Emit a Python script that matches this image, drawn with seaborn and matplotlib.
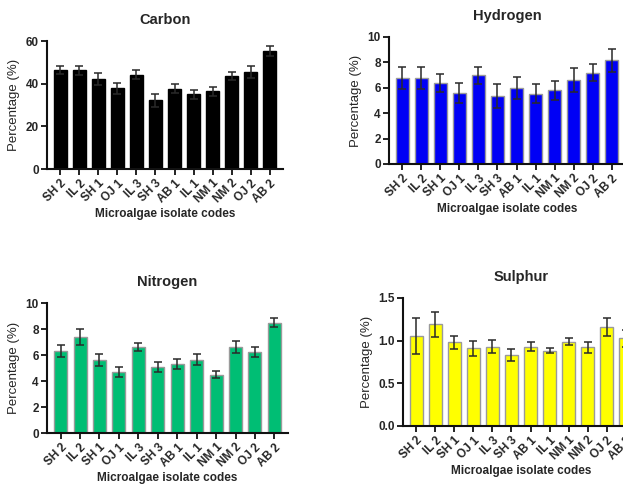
"""Elemental composition (CHNS) of microalgae isolates, four bar panels."""

import matplotlib
matplotlib.use("Agg")
import matplotlib.pyplot as plt
import numpy as np
import pandas as pd
import seaborn as sns


isolates = ["SH 2", "IL 2", "SH 1", "OJ 1", "IL 3", "SH 3",
            "AB 1", "IL 1", "NM 1", "NM 2", "OJ 2", "AB 2"]

carbon = [46.4, 46.3, 42.3, 37.8, 44.2, 32.2, 37.7, 35.0, 36.4, 43.8, 45.6, 55.5]
carbon_err = [2.0, 2.2, 2.7, 2.5, 2.2, 3.1, 2.3, 2.0, 2.0, 1.9, 2.8, 2.3]

hydrogen = [6.78, 6.78, 6.40, 5.59, 6.97, 5.38, 6.00, 5.54, 5.80, 6.63, 7.20, 8.17]
hydrogen_err = [0.89, 0.87, 0.70, 0.80, 0.70, 0.94, 0.87, 0.73, 0.73, 0.94, 0.70, 0.89]

nitrogen = [6.33, 7.38, 5.64, 4.72, 6.64, 5.10, 5.33, 5.64, 4.50, 6.60, 6.26, 8.50]
nitrogen_err = [0.46, 0.60, 0.46, 0.38, 0.30, 0.40, 0.38, 0.40, 0.27, 0.48, 0.38, 0.33]

sulphur = [1.05, 1.19, 0.98, 0.91, 0.93, 0.83, 0.93, 0.88, 0.99, 0.92, 1.16, 1.03]
sulphur_err = [0.21, 0.15, 0.08, 0.09, 0.08, 0.07, 0.05, 0.03, 0.04, 0.07, 0.11, 0.10]

panels = [
    # title, values, errors, colour, edge, y max, y ticks, axes box in pixels (x0, x1, top, bottom)
    ("Carbon", carbon, carbon_err, "#000000", "#000000", 60, [0, 20, 40, 60], (47, 283, 41, 169)),
    ("Hydrogen", hydrogen, hydrogen_err, "#0000F5", "#9a9a9a", 10, [0, 2, 4, 6, 8, 10], (389, 625, 37, 164)),
    ("Nitrogen", nitrogen, nitrogen_err, "#00BE74", "#9a9a9a", 10, [0, 2, 4, 6, 8, 10], (47, 288, 303, 433)),
    ("Sulphur", sulphur, sulphur_err, "#FFFF00", "#9a9a9a", 1.5, [0.0, 0.5, 1.0, 1.5], (403, 639, 298, 426)),
]

sns.set_style("ticks")
plt.rcParams["font.family"] = ["Liberation Sans", "DejaVu Sans"]

W, H = 623, 484
fig = plt.figure(figsize=(W / 100, H / 100), dpi=100)

for title, values, errors, colour, edge, ymax, yticks, (x0, x1, top, bottom) in panels:
    ax = fig.add_axes([x0 / W, 1 - bottom / H, (x1 - x0) / W, (bottom - top) / H])
    df = pd.DataFrame({"isolate": isolates, "value": values})
    sns.barplot(data=df, x="isolate", y="value", color=colour, edgecolor=edge,
                linewidth=1.0, width=0.67, saturation=1, errorbar=None, ax=ax)
    ax.errorbar(np.arange(len(isolates)), values, yerr=errors, fmt="none",
                ecolor="#2a2a2a", elinewidth=1.1, capsize=3, capthick=1.1, zorder=5)

    ax.set_xlim(-0.7, 11.7)
    ax.set_ylim(0, ymax)
    ax.set_yticks(yticks)
    if ymax == 1.5:
        ax.set_yticklabels([f"{t:.1f}" for t in yticks])
    sns.despine(ax=ax)
    for side in ("left", "bottom"):
        ax.spines[side].set_linewidth(1.5)
        ax.spines[side].set_color("#111111")
    ax.tick_params(axis="both", length=4, width=1.3, color="#111111", labelsize=8.5, pad=2)
    for lbl in ax.get_xticklabels():
        lbl.set_rotation(45)
        lbl.set_ha("right")
        lbl.set_rotation_mode("anchor")
        lbl.set_fontweight("bold")
    for lbl in ax.get_yticklabels():
        lbl.set_fontweight("bold")

    ax.set_title(title, fontsize=10.5, fontweight="bold", pad=12)
    ax.set_xlabel("Microalgae isolate codes", fontsize=8.5, fontweight="bold", labelpad=2)
    ax.set_ylabel("Percentage (%)", fontsize=9.5, labelpad=4)

fig.savefig("out.png", dpi=100)
